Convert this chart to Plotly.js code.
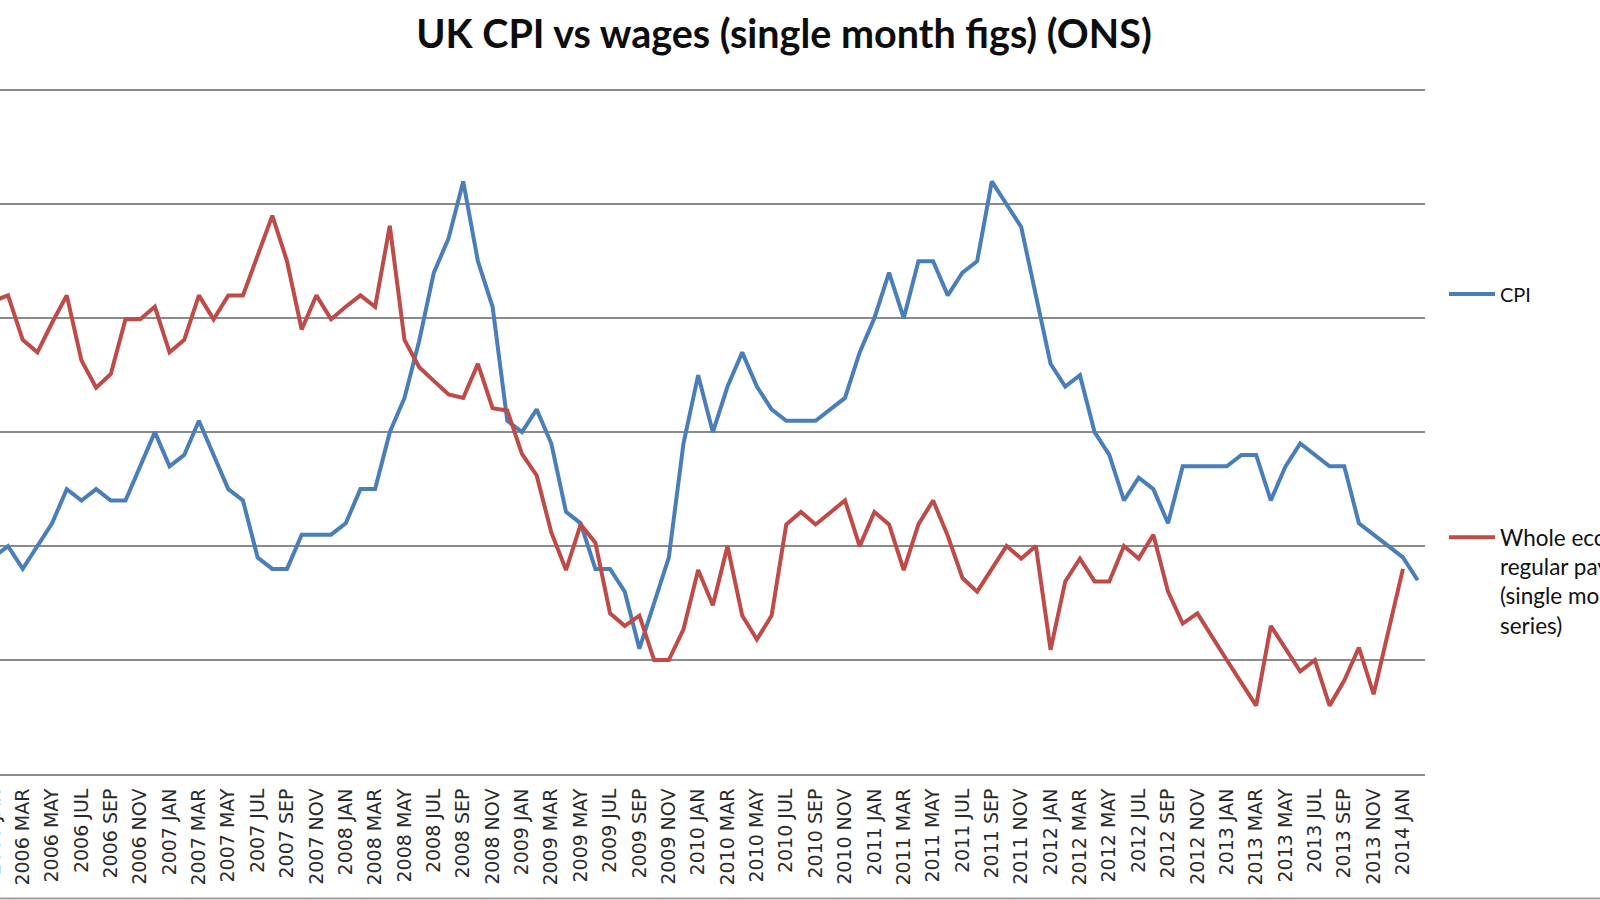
<!DOCTYPE html>
<html><head><meta charset="utf-8">
<script src="https://cdn.plot.ly/plotly-3.0.1.min.js"></script>
<style>
html,body{margin:0;padding:0;overflow:hidden;background:#fff;width:1600px;height:900px;position:relative;}
#chart{position:absolute;left:-14px;top:0;width:1614px;height:900px;}
</style>
</head><body><div id="chart"></div>
<script>
// Categories: monthly, 2006 JAN .. 2014 FEB
const years = [2006, 2007, 2008, 2009, 2010, 2011, 2012, 2013, 2014];
const monthNames = ['JAN','FEB','MAR','APR','MAY','JUN','JUL','AUG','SEP','OCT','NOV','DEC'];
const lastMonth = '2014 FEB';
const months = [];
for (const y of years) { for (const m of monthNames) { months.push(y + ' ' + m); } }
months.length = months.indexOf(lastMonth) + 1;

// CPI, 12-month rate (%)
const cpi = [
  1.9, 2.0, 1.8, 2.0, 2.2, 2.5, 2.4, 2.5, 2.4, 2.4, 2.7, 3.0,
  2.7, 2.8, 3.1, 2.8, 2.5, 2.4, 1.9, 1.8, 1.8, 2.1, 2.1, 2.1,
  2.2, 2.5, 2.5, 3.0, 3.3, 3.8, 4.4, 4.7, 5.2, 4.5, 4.1, 3.1,
  3.0, 3.2, 2.9, 2.3, 2.2, 1.8, 1.8, 1.6, 1.1, 1.5, 1.9, 2.9,
  3.5, 3.0, 3.4, 3.7, 3.4, 3.2, 3.1, 3.1, 3.1, 3.2, 3.3, 3.7,
  4.0, 4.4, 4.0, 4.5, 4.5, 4.2, 4.4, 4.5, 5.2, 5.0, 4.8, 4.2,
  3.6, 3.4, 3.5, 3.0, 2.8, 2.4, 2.6, 2.5, 2.2, 2.7, 2.7, 2.7,
  2.7, 2.8, 2.8, 2.4, 2.7, 2.9, 2.8, 2.7, 2.7, 2.2, 2.1, 2.0,
  1.9, 1.7
];

// Whole economy regular pay growth, single month series (%), to 2014 JAN
const wages = [
  4.15, 4.20, 3.81, 3.70, 3.96, 4.20, 3.63, 3.39, 3.51, 3.99, 3.99, 4.10,
  3.70, 3.81, 4.20, 3.99, 4.20, 4.20, 4.55, 4.90, 4.50, 3.90, 4.20, 3.99,
  4.10, 4.20, 4.10, 4.81, 3.81, 3.57, 3.45, 3.33, 3.30, 3.60, 3.21, 3.19,
  2.81, 2.62, 2.12, 1.79, 2.19, 2.03, 1.41, 1.30, 1.39, 1.00, 1.00, 1.27,
  1.79, 1.48, 2.00, 1.39, 1.18, 1.39, 2.19, 2.30, 2.19, 2.30, 2.40, 2.00,
  2.30, 2.19, 1.79, 2.19, 2.40, 2.09, 1.72, 1.60, 1.80, 2.00, 1.89, 2.00,
  1.09, 1.69, 1.89, 1.69, 1.69, 2.00, 1.89, 2.10, 1.60, 1.32, 1.41, 1.20,
  1.00, 0.80, 0.60, 1.30, 1.10, 0.90, 1.00, 0.60, 0.82, 1.11, 0.70, 1.25,
  1.80
];

const tickMonths = months.filter((m, i) => i % 2 === 0);

const traces = [
  {
    x: months, y: cpi, type: 'scatter', mode: 'lines', name: 'CPI',
    line: {color: '#4A7EBB', width: 4}, legend: 'legend'
  },
  {
    x: months.slice(0, wages.length), y: wages, type: 'scatter', mode: 'lines',
    name: 'Whole economy<br>regular pay<br>(single month<br>series)',
    line: {color: '#BE4B48', width: 4}, legend: 'legend2'
  }
];

const layout = {
  width: 1614, height: 900,
  paper_bgcolor: '#ffffff', plot_bgcolor: '#ffffff',
  margin: {l: 0, r: 175.4, t: 87.7, b: 126, autoexpand: false},
  title: {
    text: 'UK CPI vs wages (single month figs) (ONS)',
    font: {family: 'Lato', size: 39.5, color: '#0d0d0d', weight: 'bold'},
    xref: 'container', x: 798 / 1614, xanchor: 'center',
    yref: 'container', y: 1 - 34 / 900, yanchor: 'middle'
  },
  xaxis: {
    type: 'category', range: [-0.5, 97.5],
    tickmode: 'array', tickvals: tickMonths, ticktext: tickMonths,
    tickangle: -90, tickfont: {family: 'DejaVu Sans', size: 19, color: '#2a2a2a'},
    ticklabelstandoff: 5,
    showgrid: false, showline: true, linecolor: '#8c8c8c', linewidth: 2,
    ticks: '', zeroline: false, fixedrange: true
  },
  yaxis: {
    range: [0, 6.02], dtick: 1, tick0: 0, showticklabels: false,
    showgrid: true, gridcolor: '#8a8a8a', gridwidth: 1.6,
    zeroline: false, showline: false, ticks: '', fixedrange: true
  },
  showlegend: true,
  legend: {
    xref: 'container', x: 1458 / 1614, xanchor: 'left',
    yref: 'container', y: 1 - 294 / 900, yanchor: 'middle',
    font: {family: 'Lato', size: 20, color: '#111111'},
    bgcolor: 'rgba(0,0,0,0)', borderwidth: 0, itemwidth: 46
  },
  legend2: {
    xref: 'container', x: 1458 / 1614, xanchor: 'left',
    yref: 'container', y: 1 - 516 / 900, yanchor: 'top', valign: 'top',
    font: {family: 'Lato', size: 22.5, color: '#111111'},
    bgcolor: 'rgba(0,0,0,0)', borderwidth: 0, itemwidth: 46
  },
  shapes: [
    {type: 'line', xref: 'paper', yref: 'paper', x0: 0, x1: 1614 / 1438.6,
     y0: -124.5 / 686.3, y1: -124.5 / 686.3, line: {color: '#a0a0a0', width: 2}}
  ]
};

Plotly.newPlot('chart', traces, layout, {displayModeBar: false, staticPlot: true});
</script>
</body></html>
